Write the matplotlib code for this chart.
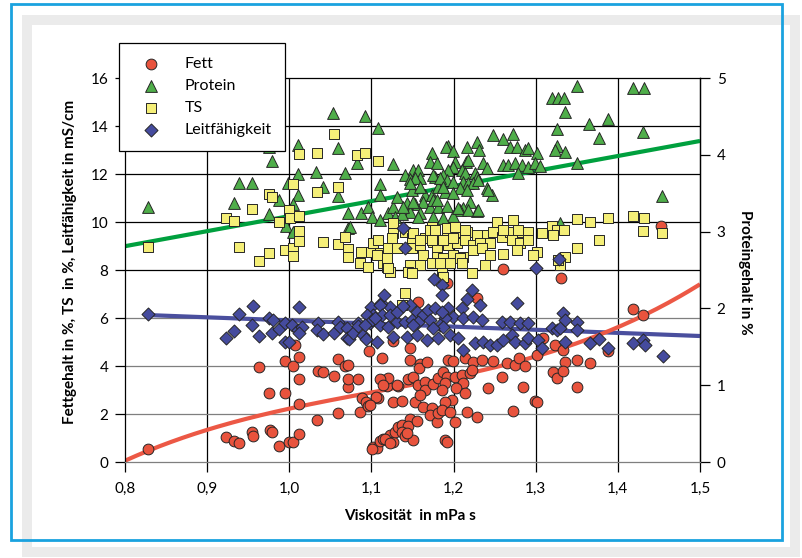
import numpy as np
import matplotlib.pyplot as plt
from matplotlib.patches import Rectangle

plt.rcParams['font.family'] = ['Lato', 'DejaVu Sans']

# (Viskosität mPa s, Fettgehalt %)
fett = [
    (0.828, 0.54), (0.923, 1.04), (0.933, 0.88), (0.939, 0.79), (0.955, 1.25), (0.956, 1.08), (0.977, 1.33), (0.979, 1.25),
    (0.987, 0.67), (1.000, 0.83), (1.005, 0.85), (1.012, 1.17), (0.963, 3.96), (0.975, 2.88), (0.995, 2.88), (0.995, 4.21),
    (1.005, 4.00), (1.007, 4.88), (1.012, 4.38), (1.012, 3.46), (1.012, 2.42), (1.034, 1.75), (1.035, 3.79), (1.041, 3.75),
    (1.054, 3.58), (1.059, 4.29), (1.059, 2.04), (1.068, 4.00), (1.071, 4.04), (1.071, 3.13), (1.071, 3.46), (1.084, 3.46),
    (1.086, 2.08), (1.089, 2.67), (1.093, 2.50), (1.096, 2.33), (1.097, 4.63), (1.102, 0.63), (1.107, 0.58), (1.110, 0.88),
    (1.113, 4.33), (1.108, 2.67), (1.113, 3.42), (1.114, 0.96), (1.119, 3.17), (1.120, 3.50), (1.123, 1.13), (1.126, 0.83),
    (1.129, 1.25), (1.126, 2.50), (1.126, 5.04), (1.132, 3.17), (1.132, 1.46), (1.147, 4.75), (1.147, 4.25), (1.159, 4.08),
    (1.158, 3.92), (1.168, 4.17), (1.110, 3.46), (1.114, 3.21), (1.131, 3.21), (1.145, 3.46), (1.151, 3.54), (1.157, 3.21),
    (1.165, 3.33), (1.165, 3.00), (1.175, 3.25), (1.181, 3.50), (1.106, 2.71), (1.098, 2.38), (1.137, 2.54), (1.153, 2.50),
    (1.159, 2.79), (1.163, 2.29), (1.174, 2.25), (1.171, 1.96), (1.180, 1.67), (1.181, 2.04), (1.147, 1.79), (1.137, 1.54),
    (1.145, 1.50), (1.155, 1.71), (1.137, 1.25), (1.141, 1.08), (1.117, 0.96), (1.151, 0.92), (1.123, 0.79), (1.101, 0.54),
    (1.193, 4.25), (1.199, 4.21), (1.214, 4.33), (1.224, 4.17), (1.235, 4.25), (1.248, 4.21), (1.265, 4.13), (1.275, 4.04),
    (1.280, 4.33), (1.287, 4.00), (1.187, 3.75), (1.192, 3.54), (1.190, 3.29), (1.186, 3.00), (1.202, 3.54), (1.210, 3.63),
    (1.220, 3.71), (1.211, 3.29), (1.222, 3.83), (1.203, 3.08), (1.214, 2.88), (1.259, 3.54), (1.242, 3.08), (1.285, 3.13),
    (1.299, 2.54), (1.198, 2.58), (1.190, 2.50), (1.186, 2.17), (1.196, 2.08), (1.216, 2.08), (1.229, 1.88), (1.272, 2.13),
    (1.202, 1.67), (1.190, 0.92), (1.192, 0.83), (1.229, 6.83), (1.418, 6.38), (1.431, 6.13), (1.388, 4.63), (1.302, 4.46),
    (1.323, 4.88), (1.333, 4.67), (1.350, 4.25), (1.336, 4.17), (1.366, 4.13), (1.321, 3.75), (1.326, 3.50), (1.333, 3.79),
    (1.350, 3.13), (1.302, 2.50), (1.260, 8.04), (1.192, 7.46), (1.157, 6.67), (1.453, 9.83), (1.331, 7.67), (1.309, 5.17),
    (1.143, 1.21),
]

# (Viskosität, Proteingehalt %)  -> right axis
protein = [
    (0.828, 3.32), (0.933, 3.37), (0.939, 3.63), (0.955, 3.63), (0.975, 4.10), (0.979, 3.92), (0.975, 3.23), (0.987, 3.41),
    (0.996, 3.07), (0.998, 3.63), (1.011, 4.13), (1.011, 3.75), (1.011, 3.48), (1.005, 3.36), (1.005, 2.99), (1.033, 3.78),
    (1.041, 3.58), (1.053, 4.54), (1.059, 4.09), (1.059, 3.46), (1.068, 3.76), (1.071, 3.24), (1.071, 3.05), (1.082, 3.89),
    (1.087, 3.24), (1.092, 4.51), (1.096, 3.32), (1.101, 3.19), (1.108, 4.35), (1.110, 3.62), (1.110, 3.48), (1.120, 3.24),
    (1.126, 3.88), (1.126, 3.32), (1.131, 3.45), (1.074, 3.06), (1.110, 3.15), (1.129, 3.19), (1.174, 4.02), (1.171, 3.91),
    (1.180, 3.89), (1.151, 3.80), (1.157, 3.80), (1.141, 3.74), (1.147, 3.68), (1.159, 3.70), (1.149, 3.54), (1.165, 3.48),
    (1.174, 3.48), (1.163, 3.39), (1.153, 3.36), (1.143, 3.37), (1.147, 3.26), (1.137, 3.23), (1.159, 3.24), (1.171, 3.32),
    (1.181, 3.58), (1.177, 3.71), (1.175, 3.41), (1.181, 3.32), (1.248, 4.26), (1.260, 4.21), (1.272, 4.27), (1.229, 4.17),
    (1.231, 4.06), (1.216, 4.10), (1.193, 4.11), (1.191, 4.10), (1.199, 4.05), (1.269, 4.10), (1.277, 4.10), (1.287, 4.06),
    (1.291, 4.09), (1.302, 4.02), (1.202, 3.91), (1.215, 3.91), (1.218, 3.93), (1.236, 3.89), (1.241, 3.83), (1.199, 3.84),
    (1.193, 3.80), (1.210, 3.80), (1.214, 3.76), (1.226, 3.76), (1.229, 3.71), (1.260, 3.87), (1.266, 3.87), (1.275, 3.89),
    (1.283, 3.87), (1.291, 3.84), (1.299, 3.89), (1.278, 3.76), (1.187, 3.74), (1.192, 3.67), (1.199, 3.65), (1.211, 3.65),
    (1.218, 3.63), (1.224, 3.63), (1.230, 3.67), (1.208, 3.57), (1.216, 3.54), (1.190, 3.52), (1.199, 3.50), (1.241, 3.57),
    (1.247, 3.48), (1.220, 3.39), (1.229, 3.27), (1.211, 3.31), (1.208, 3.28), (1.192, 3.33), (1.199, 3.20), (1.350, 4.90),
    (1.418, 4.87), (1.432, 4.87), (1.320, 4.74), (1.327, 4.74), (1.334, 4.74), (1.336, 4.56), (1.365, 4.40), (1.388, 4.47),
    (1.326, 4.34), (1.431, 4.30), (1.377, 4.22), (1.326, 4.11), (1.323, 4.06), (1.336, 4.04), (1.350, 3.89), (1.454, 3.46),
    (1.305, 3.85), (1.242, 3.54), (1.330, 3.11), (1.153, 3.70), (1.147, 3.63), (1.159, 3.58), (1.175, 3.74), (1.184, 3.70),
    (1.187, 3.58), (1.138, 3.32), (1.151, 3.39), (1.180, 3.41), (1.205, 3.31), (1.218, 3.28), (1.230, 3.28), (1.175, 3.19),
    (1.187, 3.18), (1.157, 3.19),
]

# (Viskosität, TS %)
ts = [
    (0.828, 8.96), (0.923, 10.17), (0.933, 10.04), (0.939, 8.96), (0.955, 10.54), (0.963, 8.38), (0.975, 11.17), (0.979, 11.04),
    (0.975, 8.71), (0.987, 10.00), (0.995, 8.83), (1.000, 10.50), (1.001, 10.17), (1.005, 11.58), (1.005, 8.92), (1.005, 8.58),
    (1.012, 12.83), (1.012, 10.25), (1.012, 9.63), (1.012, 9.21), (1.034, 12.88), (1.034, 11.25), (1.041, 9.17), (1.054, 13.67),
    (1.059, 11.46), (1.059, 9.08), (1.068, 9.38), (1.071, 8.88), (1.071, 8.54), (1.083, 12.79), (1.092, 12.88), (1.086, 8.29),
    (1.087, 8.75), (1.096, 8.13), (1.108, 12.54), (1.100, 8.75), (1.102, 9.13), (1.108, 9.25), (1.110, 8.71), (1.114, 8.29),
    (1.119, 8.13), (1.123, 7.92), (1.126, 9.54), (1.126, 9.96), (1.174, 9.79), (1.125, 9.33), (1.120, 8.92), (1.131, 8.92),
    (1.107, 8.63), (1.119, 8.50), (1.120, 8.08), (1.141, 9.58), (1.149, 9.33), (1.149, 8.92), (1.159, 9.04), (1.163, 8.63),
    (1.147, 8.21), (1.145, 7.92), (1.159, 8.21), (1.165, 9.33), (1.171, 9.67), (1.175, 9.17), (1.180, 8.92), (1.180, 8.54),
    (1.174, 8.29), (1.141, 7.04), (1.137, 6.54), (1.192, 9.46), (1.202, 9.58), (1.216, 9.58), (1.229, 9.46), (1.241, 9.46),
    (1.248, 9.58), (1.259, 9.38), (1.193, 9.04), (1.204, 9.13), (1.214, 9.25), (1.224, 9.04), (1.232, 9.13), (1.244, 9.13),
    (1.199, 8.63), (1.211, 8.54), (1.224, 8.83), (1.235, 8.92), (1.244, 8.63), (1.260, 8.67), (1.187, 8.50), (1.208, 8.50),
    (1.269, 9.58), (1.281, 9.58), (1.291, 9.58), (1.271, 9.25), (1.281, 9.13), (1.291, 9.25), (1.302, 8.75), (1.297, 8.63),
    (1.222, 7.88), (1.186, 7.88), (1.253, 10.00), (1.272, 10.08), (1.320, 9.83), (1.326, 9.67), (1.334, 9.67), (1.350, 10.13),
    (1.366, 10.00), (1.388, 10.17), (1.418, 10.25), (1.432, 10.17), (1.431, 9.63), (1.454, 9.54), (1.377, 9.25), (1.350, 8.92),
    (1.336, 8.54), (1.330, 8.21), (1.277, 8.83), (1.238, 8.21), (1.260, 9.67), (1.278, 9.67), (1.308, 9.54), (1.321, 9.46),
    (1.151, 9.54), (1.159, 9.25), (1.174, 9.25), (1.187, 9.25), (1.199, 9.33), (1.177, 9.67), (1.192, 9.75), (1.202, 9.79),
    (1.214, 9.67), (1.184, 8.29), (1.196, 8.29), (1.210, 8.29), (1.149, 7.88), (1.187, 7.71), (1.327, 8.42),
]

# (Viskosität, Leitfähigkeit mS/cm)
leit = [
    (0.828, 6.17), (0.923, 5.17), (0.933, 5.46), (0.939, 6.17), (0.956, 6.50), (0.955, 5.71), (0.963, 5.25), (0.975, 6.00),
    (0.979, 5.38), (0.980, 5.92), (0.987, 5.54), (0.995, 5.79), (0.995, 5.00), (1.000, 5.00), (1.003, 5.71), (1.012, 6.46),
    (1.011, 5.50), (1.015, 5.63), (1.012, 5.38), (1.035, 5.79), (1.034, 5.50), (1.041, 5.33), (1.054, 5.38), (1.059, 5.83),
    (1.062, 5.63), (1.070, 5.58), (1.070, 5.17), (1.073, 5.13), (1.078, 5.38), (1.084, 5.79), (1.090, 5.29), (1.093, 5.13),
    (1.100, 6.46), (1.102, 6.13), (1.098, 5.79), (1.107, 5.00), (1.112, 6.63), (1.115, 6.96), (1.110, 5.71), (1.123, 6.46),
    (1.120, 5.63), (1.126, 5.21), (1.131, 5.83), (1.141, 8.92), (1.110, 6.54), (1.113, 6.13), (1.123, 6.13), (1.131, 6.25),
    (1.147, 6.54), (1.155, 6.25), (1.163, 6.13), (1.169, 6.33), (1.177, 6.42), (1.095, 6.13), (1.101, 5.92), (1.104, 6.00),
    (1.141, 5.83), (1.149, 5.92), (1.157, 5.83), (1.171, 5.92), (1.084, 5.67), (1.092, 5.71), (1.300, 8.08), (1.222, 7.17),
    (1.216, 6.79), (1.232, 6.54), (1.277, 6.63), (1.186, 7.38), (1.186, 6.96), (1.193, 6.42), (1.210, 6.42), (1.199, 6.04),
    (1.211, 6.00), (1.224, 6.04), (1.235, 5.92), (1.259, 5.83), (1.269, 5.83), (1.281, 5.79), (1.291, 5.79), (1.190, 6.00),
    (1.184, 5.71), (1.176, 7.62), (1.138, 6.50), (1.186, 6.25), (1.143, 5.21), (1.155, 5.29), (1.168, 5.08), (1.181, 5.17),
    (1.196, 5.29), (1.205, 5.17), (1.211, 4.67), (1.226, 4.96), (1.236, 5.00), (1.244, 4.88), (1.253, 4.88), (1.187, 5.63),
    (1.175, 5.58), (1.151, 5.71), (1.260, 5.08), (1.271, 5.29), (1.275, 5.00), (1.287, 4.96), (1.291, 5.17), (1.303, 5.08),
    (1.308, 4.75), (1.320, 5.58), (1.326, 5.50), (1.330, 5.58), (1.333, 6.21), (1.336, 5.92), (1.350, 5.83), (1.350, 5.50),
    (1.336, 5.00), (1.366, 4.96), (1.377, 5.13), (1.388, 4.75), (1.418, 4.96), (1.431, 5.08), (1.433, 4.88), (1.455, 4.42),
    (1.138, 9.75), (1.328, 8.46),
]

# trend lines
fett_trend_x = [0.8, 0.9, 1.0, 1.1, 1.2, 1.3, 1.35, 1.4, 1.45, 1.5]
fett_trend_y = [0.1, 1.25, 2.2, 3.0, 3.55, 4.42, 4.9, 5.6, 6.4, 7.45]
protein_trend_x = [0.8, 1.5]
protein_trend_y = [2.81, 4.18]
leit_trend_x = [0.83, 1.5]
leit_trend_y = [6.12, 5.25]

x_ticks = [0.8, 0.9, 1.0, 1.1, 1.2, 1.3, 1.4, 1.5]
x_labels = ['0,8', '0,9', '1,0', '1,1', '1,2', '1,3', '1,4', '1,5']
y_ticks = [0, 2, 4, 6, 8, 10, 12, 14, 16]
p_ticks = [0, 1, 2, 3, 4, 5]

W, H = 802, 558
fig = plt.figure(figsize=(W / 100, H / 100), dpi=100)


def fx(px):
    return px / W


def fy(py):
    return 1 - py / H


# frames around the chart
fig.patches.append(Rectangle((fx(27), fy(552)), fx(795) - fx(27), fy(20) - fy(552), transform=fig.transFigure,
                             fill=False, ec='#ebebeb', lw=7.2, zorder=0))
fig.patches.append(Rectangle((fx(11), fy(540)), fx(782) - fx(11), fy(4) - fy(540), transform=fig.transFigure,
                             fill=False, ec='#1aa2df', lw=2.0, zorder=1))

ax = fig.add_axes([fx(125), fy(462), fx(700) - fx(125), fy(78) - fy(462)])
ax.set_xlim(0.8, 1.5)
ax.set_ylim(0, 16)
scale = 16 / 5  # left units per protein %

grey = '#7f7f7f'
for v in x_ticks[1:-1]:
    ax.axvline(v, color='black', lw=0.9, zorder=1)
for v in y_ticks[1:-1]:
    ax.axhline(v, color=grey if v <= 6 else 'black', lw=0.9, zorder=1)
for side in ['top', 'left', 'right']:
    ax.spines[side].set_color('black')
    ax.spines[side].set_linewidth(0.9)
ax.spines['bottom'].set_color(grey)
ax.spines['bottom'].set_linewidth(0.9)

# trend lines
ax.plot(leit_trend_x, leit_trend_y, color='#4a4f9e', lw=3, zorder=2, solid_capstyle='butt')
ax.plot(protein_trend_x, np.array(protein_trend_y) * scale, color='#00a03e', lw=3, zorder=2, solid_capstyle='butt')
coef = np.polyfit(fett_trend_x, fett_trend_y, 3)
xs = np.linspace(0.8, 1.5, 200)
ax.plot(xs, np.polyval(coef, xs), color='#ec5845', lw=3, zorder=2, solid_capstyle='butt')

ec = '#262626'
fx_, fy_ = zip(*fett)
px_, py_ = zip(*protein)
tx_, ty_ = zip(*ts)
lx_, ly_ = zip(*leit)
h1 = ax.scatter(fx_, fy_, s=60, marker='o', c='#e8533d', edgecolors=ec, linewidths=0.7, zorder=3, label='Fett')
h2 = ax.scatter(px_, np.array(py_) * scale, s=72, marker='^', c='#4fae4a', edgecolors=ec, linewidths=0.7, zorder=4,
                label='Protein')
h3 = ax.scatter(tx_, ty_, s=54, marker='s', c='#f5ef78', edgecolors=ec, linewidths=0.7, zorder=5, label='TS')
h4 = ax.scatter(lx_, ly_, s=44, marker='D', c='#454b9e', edgecolors=ec, linewidths=0.7, zorder=6,
                label='Leitfähigkeit')

ax.set_xticks(x_ticks, labels=x_labels)
ax.set_yticks(y_ticks)
ax.tick_params(axis='x', direction='out', length=7, width=0.9, pad=7, labelsize=11)
ax.tick_params(axis='y', direction='out', length=7, width=0.9, pad=5, labelsize=11)
for t, v in zip(ax.yaxis.get_major_ticks(), y_ticks):
    t.tick1line.set_color(grey if v <= 6 else 'black')

sec = ax.secondary_yaxis('right', functions=(lambda y: y / scale, lambda p: p * scale))
sec.set_yticks(p_ticks)
sec.tick_params(direction='out', length=7, width=0.9, pad=5, labelsize=11)
sec.spines['right'].set_linewidth(0.9)

fig.text(fx(410), fy(516), 'Viskosität  in mPa s', ha='center', va='center', fontsize=11, weight='bold')
fig.text(fx(70), fy(262), 'Fettgehalt in %, TS  in %, Leitfähigkeit in mS/cm', ha='center', va='center',
         rotation=90, fontsize=11, weight='bold')
fig.text(fx(745), fy(272), 'Proteingehalt in %', ha='center', va='center', rotation=-90, fontsize=11, weight='bold')

leg = fig.legend(handles=[h1, h2, h3, h4], loc='upper left', bbox_to_anchor=(fx(119), fy(43)),
                 fontsize=11.5, frameon=True, fancybox=False, edgecolor='black', framealpha=1,
                 borderpad=0.85, labelspacing=0.5, handlelength=2.25, handletextpad=1.0,
                 borderaxespad=0, scatterpoints=1)
leg.get_frame().set_linewidth(0.9)

fig.savefig('out.png', dpi=100)
